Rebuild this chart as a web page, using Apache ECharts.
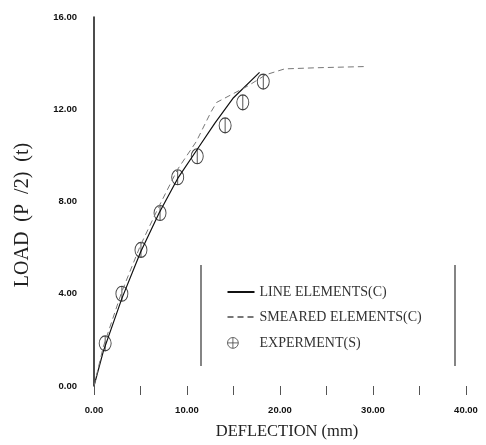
<!DOCTYPE html>
<html>
<head>
<meta charset="utf-8">
<script src="https://cdn.jsdelivr.net/npm/echarts@6/dist/echarts.min.js"></script>
<style>
  html, body { margin: 0; padding: 0; background: #fff; }
  #chart { width: 486px; height: 445px; }
</style>
</head>
<body>
<div id="chart"></div>
<script>
  // deflection (mm) / load (t) pairs
  const lineElements = [
    [0, 0], [1, 1.5], [3, 3.8], [5, 5.8], [7, 7.5], [9, 9.0],
    [11, 10.2], [13, 11.4], [15, 12.5], [17.8, 13.6]
  ]
  const smearedElements = [
    [0, 0], [1, 1.7], [3, 4.1], [5, 6.1], [7, 7.8], [9, 9.4], [11, 10.6],
    [12.6, 11.9], [13.2, 12.3], [16.5, 13.0], [18.5, 13.5], [20.5, 13.75],
    [24, 13.8], [29, 13.85]
  ]
  const experiment = [
    [1.2, 1.85], [3.0, 4.0], [5.05, 5.9], [7.1, 7.5], [9.0, 9.05],
    [11.1, 9.96], [14.1, 11.3], [16.0, 12.3], [18.2, 13.2]
  ]
  const legendNames = ['LINE ELEMENTS(C)', 'SMEARED ELEMENTS(C)', 'EXPERMENT(S)']

  const circleBar = 'path://M0,-10L0,10M10,0A10,10 0 1,1 -10,0A10,10 0 1,1 10,0Z'
  // same mark, with an invisible point on the right so the legend icon sits left
  const legendPlus = 'path://M0,-10L0,10M-10,0L10,0M10,0A10,10 0 1,1 -10,0A10,10 0 1,1 10,0ZM40,0L40,0.01'
  const noDot = { color: 'rgba(0,0,0,0)', borderWidth: 0 }

  const chart = echarts.init(document.getElementById('chart'))
  chart.setOption({
    animation: false,
    backgroundColor: '#fff',
    grid: { left: 94, right: 20, top: 17, bottom: 57 },
    legend: {
      orient: 'vertical',
      left: 220,
      top: 280,
      itemWidth: 27,
      itemHeight: 14,
      itemGap: 11,
      data: [
        { name: legendNames[0], itemStyle: noDot },
        { name: legendNames[1], itemStyle: noDot },
        {
          name: legendNames[2],
          icon: legendPlus,
          itemStyle: { color: 'none', borderColor: '#444', borderWidth: 1 }
        }
      ],
      textStyle: { fontFamily: 'Liberation Serif', fontSize: 14, color: '#333' }
    },
    xAxis: {
      type: 'value',
      min: 0,
      max: 40,
      interval: 5,
      name: 'DEFLECTION (mm)',
      nameLocation: 'middle',
      nameGap: 37,
      nameTextStyle: {
        fontFamily: 'Liberation Serif',
        fontSize: 16.5,
        color: '#222',
        padding: [0, 0, 0, 14]
      },
      axisLine: { show: false },
      axisTick: { show: true, inside: false, length: 9, lineStyle: { color: '#555' } },
      axisLabel: {
        margin: 19,
        fontFamily: 'Liberation Sans',
        fontWeight: 'bold',
        fontSize: 9.5,
        color: '#111',
        formatter: v => (v % 10 === 0 ? v.toFixed(2) : '')
      },
      splitLine: { show: false }
    },
    yAxis: {
      type: 'value',
      min: 0,
      max: 16,
      interval: 4,
      axisLine: { show: true, lineStyle: { color: '#111', width: 1.5 } },
      axisTick: { show: false },
      axisLabel: {
        margin: 17,
        fontFamily: 'Liberation Sans',
        fontWeight: 'bold',
        fontSize: 9.5,
        color: '#111',
        formatter: v => v.toFixed(2)
      },
      splitLine: { show: false }
    },
    graphic: [
      {
        type: 'text',
        x: 13,
        y: 215,
        rotation: Math.PI / 2,
        style: {
          text: 'LOAD  (P  /2)  (t)',
          fontFamily: 'Liberation Serif',
          fontSize: 20,
          fill: '#222',
          align: 'center',
          verticalAlign: 'top'
        }
      },
      { type: 'line', shape: { x1: 201, y1: 265, x2: 201, y2: 366 }, style: { stroke: '#333', lineWidth: 1.2 } },
      { type: 'line', shape: { x1: 455, y1: 265, x2: 455, y2: 366 }, style: { stroke: '#333', lineWidth: 1.2 } }
    ],
    series: [
      {
        name: legendNames[0],
        type: 'line',
        data: lineElements,
        symbol: 'none',
        lineStyle: { color: '#111', width: 1.2 },
        itemStyle: { color: '#111' }
      },
      {
        name: legendNames[1],
        type: 'line',
        data: smearedElements,
        symbol: 'none',
        lineStyle: { color: '#777', width: 1, type: [6, 4] },
        itemStyle: { color: '#777' }
      },
      {
        name: legendNames[2],
        type: 'scatter',
        data: experiment,
        symbol: circleBar,
        symbolSize: [12, 15],
        itemStyle: { color: 'none', borderColor: '#111', borderWidth: 1 }
      }
    ]
  })
</script>
</body>
</html>
